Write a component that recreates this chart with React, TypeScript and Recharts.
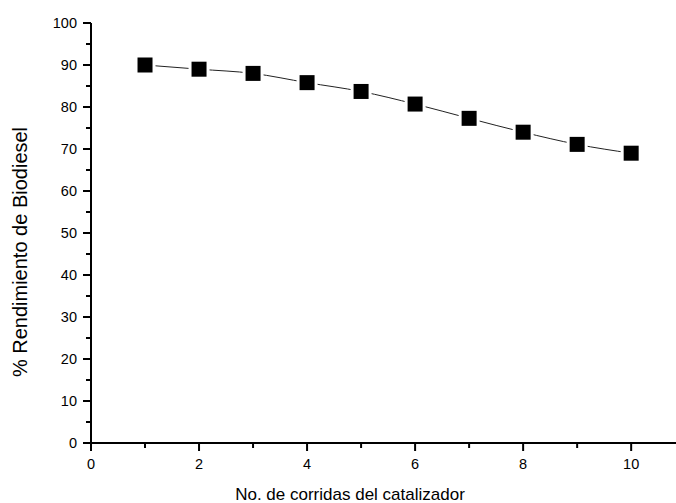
import React from "react";
import { LineChart, Line, XAxis, YAxis, Label } from "recharts";

const runs = [1, 2, 3, 4, 5, 6, 7, 8, 9, 10];
const yieldPct = [90.0, 89.0, 88.0, 85.8, 83.7, 80.7, 77.3, 74.0, 71.1, 69.0];
const xTicks = [0, 1, 2, 3, 4, 5, 6, 7, 8, 9, 10];
const yTicks = [0, 5, 10, 15, 20, 25, 30, 35, 40, 45, 50, 55, 60, 65, 70, 75, 80, 85, 90, 95, 100];

const data = runs.map((r, i) => ({ x: r, y: yieldPct[i] }));

const FONT = "Liberation Sans, Arial, sans-serif";

const XTick = (props: any) => {
  const { x, y, payload } = props;
  const major = payload.value % 2 === 0;
  return (
    <g>
      <line x1={x} x2={x} y1={y} y2={y + (major ? 8 : 5)} stroke="#000" strokeWidth={2} />
      {major && (
        <text x={x} y={y + 26} textAnchor="middle" fontSize={14.5} fontFamily={FONT} fill="#000">
          {payload.value}
        </text>
      )}
    </g>
  );
};

const YTick = (props: any) => {
  const { x, y, payload } = props;
  const major = payload.value % 10 === 0;
  return (
    <g>
      <line x1={x} x2={x - (major ? 8 : 5)} y1={y} y2={y} stroke="#000" strokeWidth={2} />
      {major && (
        <text x={x - 14} y={y + 5} textAnchor="end" fontSize={14.5} fontFamily={FONT} fill="#000">
          {payload.value}
        </text>
      )}
    </g>
  );
};

const SquareDot = (props: any) => {
  const { cx, cy } = props;
  if (cx == null || cy == null) return null;
  return (
    <g>
      <rect x={cx - 10.5} y={cy - 10.5} width={21} height={21} fill="#fff" />
      <rect x={cx - 7.5} y={cy - 7.5} width={15} height={15} fill="#000" />
    </g>
  );
};

const XTitle = () => (
  <text x={350} y={500} textAnchor="middle" fontSize={17} fontFamily={FONT} fill="#000">
    No. de corridas del catalizador
  </text>
);

const YTitle = () => (
  <text
    x={0}
    y={0}
    transform="translate(27, 252) rotate(-90)"
    textAnchor="middle"
    fontSize={20}
    fontFamily={FONT}
    fill="#000"
  >
    % Rendimiento de Biodiesel
  </text>
);

export default function App() {
  return (
    <div style={{ position: "fixed", left: 0, top: 0, background: "#fff" }}>
      <LineChart
        width={676}
        height={503}
        data={data}
        margin={{ top: 23, right: 0, left: 0, bottom: 0 }}
      >
        <XAxis
          type="number"
          dataKey="x"
          domain={[0, 10.83]}
          ticks={xTicks}
          allowDataOverflow
          height={60}
          axisLine={{ stroke: "#000", strokeWidth: 2 }}
          tickLine={false}
          tickSize={0}
          tickMargin={0}
          tick={<XTick />}
          interval={0}
        >
          <Label content={<XTitle />} />
        </XAxis>
        <YAxis
          type="number"
          dataKey="y"
          domain={[0, 100]}
          ticks={yTicks}
          width={91}
          axisLine={{ stroke: "#000", strokeWidth: 2 }}
          tickLine={false}
          tickSize={0}
          tickMargin={0}
          tick={<YTick />}
          interval={0}
        >
          <Label content={<YTitle />} />
        </YAxis>
        <Line
          type="monotone"
          dataKey="y"
          stroke="#222"
          strokeWidth={1}
          dot={<SquareDot />}
          activeDot={false}
          isAnimationActive={false}
        />
      </LineChart>
    </div>
  );
}
